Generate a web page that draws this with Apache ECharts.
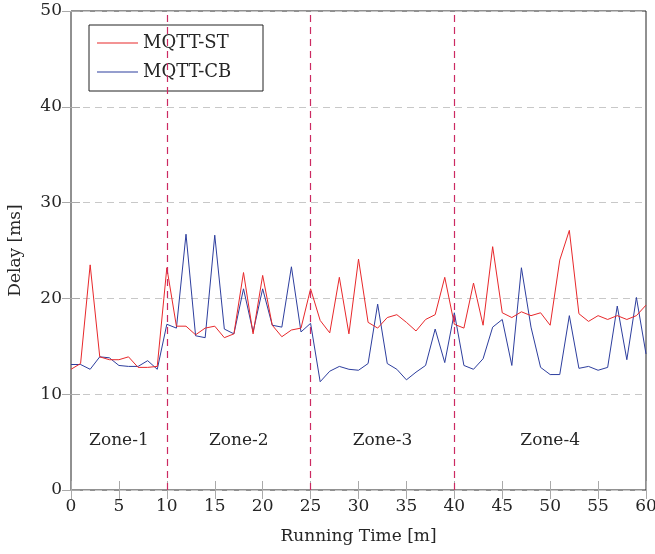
<!DOCTYPE html>
<html>
<head>
<meta charset="utf-8">
<script src="https://cdn.jsdelivr.net/npm/echarts@6/dist/echarts.min.js"></script>
<style>html,body{margin:0;padding:0;background:#fff}#c{width:655px;height:554px}</style>
</head>
<body>
<div id="c"></div>
<script>
const times = [0,1,2,3,4,5,6,7,8,9,10,11,12,13,14,15,16,17,18,19,20,21,22,23,24,25,26,27,28,29,30,31,32,33,34,35,36,37,38,39,40,41,42,43,44,45,46,47,48,49,50,51,52,53,54,55,56,57,58,59,60];
const mqttST = [12.6,13.2,23.5,13.9,13.6,13.6,13.9,12.8,12.8,12.9,23.2,17.1,17.1,16.2,16.9,17.1,15.9,16.3,22.7,16.3,22.4,17.2,16.0,16.7,16.9,21.0,17.7,16.4,22.2,16.3,24.1,17.5,16.9,18.0,18.3,17.5,16.6,17.8,18.3,22.2,17.3,16.9,21.6,17.2,25.4,18.5,18.0,18.6,18.2,18.5,17.2,24.0,27.1,18.4,17.6,18.2,17.8,18.2,17.8,18.2,19.3];
const mqttCB = [13.1,13.1,12.6,13.9,13.8,13.0,12.9,12.9,13.5,12.6,17.3,16.9,26.7,16.1,15.9,26.6,16.8,16.3,21.0,16.5,21.0,17.2,17.0,23.3,16.5,17.4,11.3,12.4,12.9,12.6,12.5,13.2,19.4,13.2,12.6,11.5,12.3,13.0,16.8,13.3,18.5,13.0,12.6,13.7,17.0,17.8,13.0,23.2,17.0,12.8,12.05,12.05,18.2,12.7,12.9,12.5,12.8,19.2,13.6,20.1,14.2];
const zoneBounds = [10,25,40];
const zoneNames = ['Zone-1','Zone-2','Zone-3','Zone-4'];
const zoneCenters = [5,17.5,32.5,50];
const zoneLabelY = 5.2;

const FONT = 'DejaVu Serif';
const TXT = '#262626';
const chart = echarts.init(document.getElementById('c'), null, {renderer:'canvas'});
const pairs = (ys) => times.map((t,i)=>[t, ys[i]]);

const tickStyle = {show:true, inside:true, length:9, lineStyle:{color:'#aaa', width:1}};
chart.setOption({
  animation:false,
  backgroundColor:'#fff',
  grid:{left:71, right:9, top:11, bottom:64, show:true, borderColor:'#222', borderWidth:1, backgroundColor:'transparent', containLabel:false, outerBoundsMode:'none'},
  legend:{
    left:89, top:25, orient:'vertical',
    padding:[8,10,9,8],
    borderColor:'#222', borderWidth:1, backgroundColor:'#fff',
    icon:'rect', itemWidth:41, itemHeight:1, itemGap:9,
    textStyle:{fontFamily:FONT, fontSize:18, color:TXT, lineHeight:20, width:110},
    data:['MQTT-ST','MQTT-CB']
  },
  xAxis:[{
    type:'value', min:0, max:60, interval:5,
    name:'Running Time [m]', nameLocation:'middle', nameGap:38,
    nameTextStyle:{fontFamily:FONT, fontSize:17, color:TXT},
    axisLine:{show:false}, axisTick:tickStyle,
    axisLabel:{fontFamily:FONT, fontSize:17, color:TXT, margin:8},
    splitLine:{show:false}
  },{
    type:'value', min:0, max:60, interval:5, position:'top',
    axisLine:{show:false}, axisTick:tickStyle, axisLabel:{show:false}, splitLine:{show:false}
  }],
  yAxis:[{
    type:'value', min:0, max:50, interval:10,
    name:'Delay [ms]', nameLocation:'middle', nameGap:47,
    nameTextStyle:{fontFamily:FONT, fontSize:17, color:TXT},
    axisLine:{show:false}, axisTick:tickStyle,
    axisLabel:{fontFamily:FONT, fontSize:17, color:TXT, margin:9},
    splitLine:{show:true, lineStyle:{color:'#c8c8c8', type:[7,5], width:1}}
  },{
    type:'value', min:0, max:50, interval:10, position:'right',
    axisLine:{show:false}, axisTick:tickStyle, axisLabel:{show:false}, splitLine:{show:false}
  }],
  series:[{
    name:'MQTT-ST', type:'line', data:pairs(mqttST), symbol:'none',
    lineStyle:{color:'#e8282b', width:1}, itemStyle:{color:'#e8282b'}, z:3,
    markLine:{
      silent:true, symbol:'none', label:{show:false},
      lineStyle:{color:'#cc2a62', type:[7,5], width:1.2},
      data: zoneBounds.map(v=>({xAxis:v}))
    },
    markPoint:{
      silent:true, symbol:'rect', symbolSize:0,
      label:{show:true, position:'inside', fontFamily:FONT, fontSize:17, color:TXT},
      data: zoneNames.map((n,i)=>({coord:[zoneCenters[i], zoneLabelY], value:n, label:{formatter:n}}))
    }
  },{
    name:'MQTT-CB', type:'line', data:pairs(mqttCB), symbol:'none',
    lineStyle:{color:'#2d3e9e', width:1}, itemStyle:{color:'#2d3e9e'}, z:2
  }]
});
</script>
</body>
</html>
